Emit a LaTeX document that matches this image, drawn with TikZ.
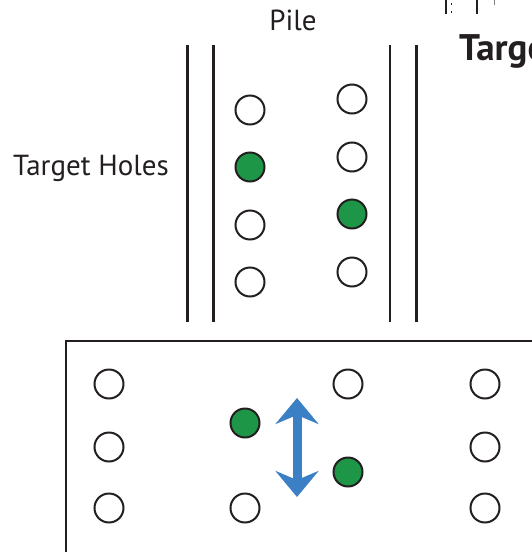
\documentclass[tikz,border=0pt]{standalone}
\usepackage{fontspec}
\setmainfont{PT Sans}
\usetikzlibrary{arrows.meta}
\definecolor{ink}{RGB}{35,31,32}
\definecolor{holegreen}{RGB}{30,150,72}
\definecolor{moveblue}{RGB}{59,128,196}
\tikzset{
  hole/.style={circle, draw=ink, line width=2pt, fill=white, minimum size=29pt, inner sep=0pt},
  filled/.style={hole, fill=holegreen},
  wall/.style={draw=ink, line width=2.4pt},
  label/.style={text=ink, font=\fontsize{29}{29}\selectfont}
}
\begin{document}
\begin{tikzpicture}[x=1pt,y=-1pt]
\useasboundingbox (0,0) rectangle (531,552);
% pile walls
\draw [wall] (187.5,45)--(187.5,321.5);
\draw [wall] (213.5,45)--(213.5,321.5);
\draw [wall] (390,45)--(390,321.5);
\draw [wall] (416.5,45)--(416.5,321.5);
\node [label, anchor=base] (pile) at (293,30) {Pile};
\node [label, anchor=base west, inner sep=0pt] (targetholes) at (13,175) {Target Holes};
% holes in the pile
\node [hole] (p1) at (250,110) {};
\node [filled] (p2) at (250,167) {};
\node [hole] (p3) at (250,225) {};
\node [hole] (p4) at (250,282) {};
\node [hole] (q1) at (352,99) {};
\node [hole] (q2) at (352,157) {};
\node [filled] (q3) at (352,214) {};
\node [hole] (q4) at (352,272) {};
% target plate
\draw [draw=ink, line width=2pt] (65.5,600)--(65.5,341)--(600,341);
\node [hole] (t1) at (109,384) {};
\node [hole] (t2) at (109,447) {};
\node [hole] (t3) at (109,508) {};
\node [filled] (t4) at (245,423) {};
\node [hole] (t5) at (245,508) {};
\node [hole] (t6) at (348,384) {};
\node [filled] (t7) at (348,472) {};
\node [hole] (t8) at (485,384) {};
\node [hole] (t9) at (485,447) {};
\node [hole] (t10) at (485,508) {};
\coordinate (up) at (297,398);
\coordinate (down) at (297,497);
\draw [moveblue, line width=9pt, {Stealth[length=26pt,width=43pt,inset=9pt]}-{Stealth[length=26pt,width=43pt,inset=9pt]}] (up)--(down);
% neighbouring panel
\node [text=ink, font=\fontsize{37}{37}\selectfont\bfseries, anchor=base west, inner sep=0pt] (target) at (459,60) {Target};
\draw [ink, line width=2pt] (446,0)--(446,14);
\draw [ink, line width=1pt] (451,3)--(451,5) (451,11)--(451,13);
\draw [ink, line width=2pt] (477,0)--(477,14);
\draw [gray, line width=1pt] (494,0)--(494,5);
\end{tikzpicture}
\end{document}
